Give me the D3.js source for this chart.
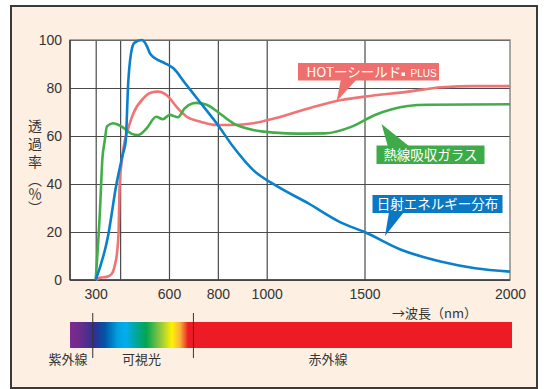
<!DOCTYPE html>
<html>
<head>
<meta charset="utf-8">
<script src="https://cdn.jsdelivr.net/npm/d3@7"></script>
<style>
  body { margin: 0; background: #fff; }
  text { font-family: "Liberation Sans", Arial, sans-serif; }
  .jp { font-family: "Noto Sans CJK JP", sans-serif; }
</style>
</head>
<body>
<svg id="chart" width="550" height="389"></svg>
<script>
// ---- data (wavelength nm, transmittance %) ----
var solarData = [[300,0],[350,18],[385,40],[410,52],[423,58],[433,82],[444,94],[458,98.8],[488,100],[508,97.8],[522,94.4],[543,92.4],[584,90.3],[618,88.2],[666,82],[720,75],[795,65.3],[863,55.5],[945,45.8],[1042,39.6],[1211,32],[1383,23.8],[1500,20],[1628,12.5],[1765,7.6],[1880,4.9],[2000,3.5]];
var hotData = [[300,0],[320,1],[345,1.3],[365,2.5],[378,6],[388,12],[394,21],[398,40],[405,48],[419,58],[427,61],[454,69.4],[495,75.7],[525,78],[556,78.5],[591,77],[632,72],[673,68],[727,66],[795,64.6],[863,64.6],[945,65.3],[1042,67.4],[1213,71.5],[1383,75],[1502,76.4],[1651,78.5],[1765,80.3],[1880,80.8],[2000,80.8]];
var glassData = [[300,0],[318,30],[327,50],[337,58],[346,64],[371,65.3],[405,64],[446,61],[473,60.4],[507,63],[548,68],[575,67],[603,68.8],[637,67.8],[664,71.5],[698,73.6],[713,73.8],[754,73],[800,70],[863,65.3],[945,62.5],[1042,61.4],[1150,61],[1298,61.1],[1435,63.9],[1536,68.75],[1649,72.5],[1718,73],[2000,73.2]];

var yTicks = [0, 20, 40, 60, 80, 100];
var xGridTicks = [300, 400, 600, 800, 1000, 1500];
var xLabelTicks = [300, 600, 800, 1000, 1500, 2000];

// spectrum colour stops by wavelength
var spectrumStops = [[195,"#7d2b8f"],[236,"#6a2c8c"],[297,"#2e3192"],[338,"#0056a8"],[391,"#00a2df"],[424,"#00aeef"],[465,"#00a89a"],[506,"#00a651"],[563,"#8dc63f"],[612,"#fff200"],[645,"#fbb040"],[662,"#f26a2a"],[678,"#ed1c24"],[2000,"#ed1c24"]];
var regionTicks = [288, 700];
var regionLabels = [["紫外線", 68], ["可視光", 141.5], ["赤外線", 328]];

var svg = d3.select("#chart");

// panel
svg.append("rect")
  .attr("x", 11).attr("y", 6).attr("width", 526).attr("height", 382)
  .attr("fill", "#fdf0e2").attr("stroke", "#3a3a3a").attr("stroke-width", 2);

// scales (the original axis is piecewise linear)
var x = d3.scaleLinear()
  .domain([195, 300, 1000, 1500, 2000])
  .range([70, 95.7, 266.7, 364.5, 510]);
var y = d3.scaleLinear().domain([0, 100]).range([280, 40]);

// plot background
svg.append("rect")
  .attr("x", x(195)).attr("y", y(100))
  .attr("width", x(2000) - x(195)).attr("height", y(0) - y(100))
  .attr("fill", "#fff");

// grid
var gridY = svg.append("g")
  .attr("transform", "translate(" + x(195) + ",0)")
  .call(d3.axisLeft(y).tickValues(yTicks).tickSize(-(x(2000) - x(195))).tickFormat(""));
var gridX = svg.append("g")
  .attr("transform", "translate(0," + y(0) + ")")
  .call(d3.axisBottom(x).tickValues(xGridTicks).tickSize(-(y(0) - y(100))).tickFormat(""));
[gridX, gridY].forEach(function(g) {
  g.select(".domain").remove();
  g.selectAll("line").attr("stroke", "#4a4a4a").attr("stroke-width", 1.2);
});

// frame
svg.append("rect")
  .attr("x", x(195)).attr("y", y(100))
  .attr("width", x(2000) - x(195)).attr("height", y(0) - y(100))
  .attr("fill", "none").attr("stroke", "#7a7a7a").attr("stroke-width", 1.3);
svg.append("line")
  .attr("x1", x(195)).attr("x2", x(195)).attr("y1", y(100)).attr("y2", y(0))
  .attr("stroke", "#3a3a3a").attr("stroke-width", 1.5);
svg.append("line")
  .attr("x1", x(195)).attr("x2", x(2000)).attr("y1", y(0)).attr("y2", y(0))
  .attr("stroke", "#3a3a3a").attr("stroke-width", 1.5);

// tick labels
var yAxis = svg.append("g")
  .attr("transform", "translate(" + x(195) + ",0)")
  .call(d3.axisLeft(y).tickValues(yTicks).tickSize(0).tickPadding(8).tickFormat(d3.format("d")));
var xAxis = svg.append("g")
  .attr("transform", "translate(0," + y(0) + ")")
  .call(d3.axisBottom(x).tickValues(xLabelTicks).tickSize(0).tickPadding(9).tickFormat(d3.format("d")));
[xAxis, yAxis].forEach(function(g) {
  g.select(".domain").remove();
  g.selectAll("text")
    .attr("fill", "#333")
    .style("font-size", "14px")
    .style("font-family", "'Liberation Sans', Arial, sans-serif");
});

// curves
var line = d3.line()
  .x(function(d) { return x(d[0]); })
  .y(function(d) { return y(d[1]); })
  .curve(d3.curveMonotoneX);

var series = [
  { data: hotData, color: "#f07474" },
  { data: glassData, color: "#43ad4a" },
  { data: solarData, color: "#0a80cc" }
];
svg.selectAll("path.series")
  .data(series)
  .enter().append("path")
    .attr("class", "series")
    .attr("d", function(d) { return line(d.data); })
    .attr("fill", "none")
    .attr("stroke", function(d) { return d.color; })
    .attr("stroke-width", 2.6)
    .attr("stroke-linejoin", "round");

// callouts
function callout(box, tri, fill) {
  svg.append("polygon").attr("points", tri.map(function(p) { return p.join(","); }).join(" ")).attr("fill", fill);
  svg.append("rect").attr("x", box[0]).attr("y", box[1]).attr("width", box[2]).attr("height", box[3]).attr("fill", fill);
}

callout([298, 63, 141, 17.5], [[341, 79], [357, 79], [336.5, 101.5]], "#ee6f6d");
svg.append("text").attr("class", "jp")
  .attr("x", 306.5).attr("y", 76.5).attr("fill", "#fff").style("font-size", "13.5px")
  .text("HOTーシールド");
svg.append("rect").attr("x", 401.5).attr("y", 72.5).attr("width", 3.5).attr("height", 3.5).attr("fill", "#fff");
svg.append("text")
  .attr("x", 410.5).attr("y", 76.5).attr("fill", "#fff").style("font-size", "10px")
  .text("PLUS");

callout([376.5, 145.5, 108, 18.5], [[381.5, 124], [388, 147], [410, 147]], "#3dab48");
svg.append("text").attr("class", "jp")
  .attr("x", 430.5).attr("y", 159.5).attr("text-anchor", "middle")
  .attr("fill", "#fff").style("font-size", "13.5px").text("熱線吸収ガラス");

callout([372.5, 195, 130, 18], [[385, 236], [389, 212], [404, 212]], "#0a78c2");
svg.append("text").attr("class", "jp")
  .attr("x", 437.5).attr("y", 208.8).attr("text-anchor", "middle")
  .attr("fill", "#fff").style("font-size", "13.5px").text("日射エネルギー分布");

// axis titles
var yTitle = svg.append("text").attr("class", "jp")
  .attr("x", 35).attr("y", 119)
  .style("writing-mode", "vertical-rl")
  .attr("fill", "#333").style("font-size", "14px");
yTitle.append("tspan").style("letter-spacing", "4px").text("透過率");
yTitle.append("tspan").text("（％）");

svg.append("text").attr("class", "jp")
  .attr("x", 477).attr("y", 318).attr("text-anchor", "end")
  .attr("fill", "#333").style("font-size", "13px")
  .text("→波長（nm）");

// spectrum bar
var grad = svg.append("defs").append("linearGradient")
  .attr("id", "spectrum").attr("gradientUnits", "userSpaceOnUse")
  .attr("x1", x(195)).attr("x2", 512).attr("y1", 0).attr("y2", 0);
grad.selectAll("stop")
  .data(spectrumStops)
  .enter().append("stop")
    .attr("offset", function(d) { return (x(d[0]) - x(195)) / (512 - x(195)); })
    .attr("stop-color", function(d) { return d[1]; });

svg.append("rect")
  .attr("x", x(195)).attr("y", 322)
  .attr("width", 512 - x(195)).attr("height", 26)
  .attr("fill", "url(#spectrum)");

svg.selectAll("line.region")
  .data(regionTicks)
  .enter().append("line")
    .attr("class", "region")
    .attr("x1", function(d) { return x(d); }).attr("x2", function(d) { return x(d); })
    .attr("y1", 313).attr("y2", 358)
    .attr("stroke", "#333").attr("stroke-width", 1);

svg.selectAll("text.region")
  .data(regionLabels)
  .enter().append("text")
    .attr("class", "jp region")
    .attr("x", function(d) { return d[1]; }).attr("y", 364)
    .attr("text-anchor", "middle")
    .attr("fill", "#333").style("font-size", "13px")
    .text(function(d) { return d[0]; });
</script>
</body>
</html>
